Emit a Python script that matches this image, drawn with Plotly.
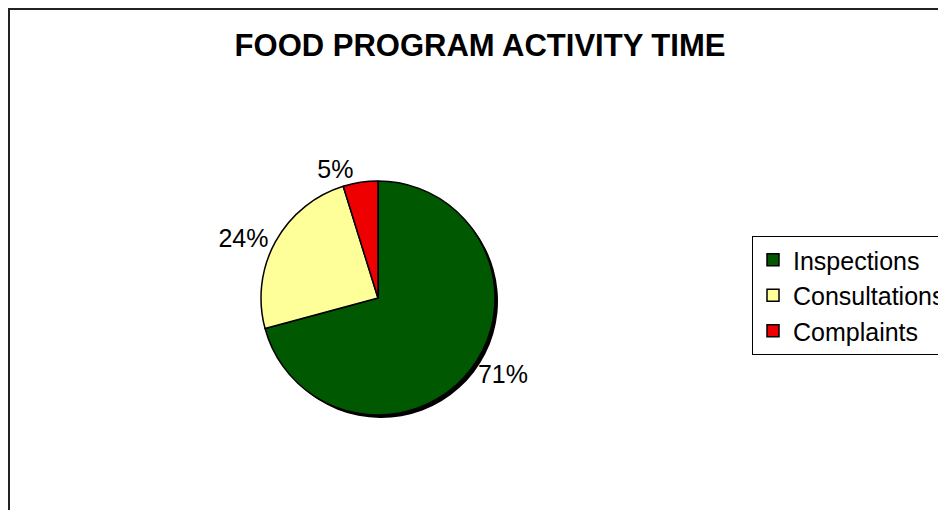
import plotly.graph_objects as go

categories = ["Inspections", "Consultations", "Complaints"]
values = [70.8, 24.4, 4.8]
colors = ["#005800", "#FFFF99", "#EE0000"]

W, H = 946, 510
off = 8  # page body margin offset
cx, cy, r = 378 - off, 298 - off, 117
sh = 3  # shadow offset px

def dom(dx, dy):
    return dict(x=[(cx + dx - r) / W, (cx + dx + r) / W],
                y=[1 - (cy + dy + r) / H, 1 - (cy + dy - r) / H])

fig = go.Figure()
fig.add_trace(go.Pie(
    labels=categories, values=values, sort=False, direction="clockwise", rotation=0,
    marker=dict(colors=["#000000"] * 3, line=dict(width=0)),
    textinfo="none",
    domain=dom(sh, sh), showlegend=False, hoverinfo="skip",
))
fig.add_trace(go.Pie(
    labels=categories, values=values, sort=False, direction="clockwise", rotation=0,
    marker=dict(colors=colors, line=dict(color="#000000", width=1.5)),
    textposition="outside", texttemplate="%{percent:.0%}",
    textfont=dict(size=25, color="#000000", family="Liberation Sans, Arial, sans-serif"),
    domain=dom(0, 0), showlegend=True,
))

fig.update_layout(
    width=W, height=H,
    margin=dict(l=0, r=0, t=0, b=0),
    paper_bgcolor="white", plot_bgcolor="white",
    font=dict(family="Liberation Sans, Arial, sans-serif", color="#000000"),
    title=dict(text="<b>FOOD PROGRAM ACTIVITY TIME</b>", x=(480 - off) / W, xanchor="center",
               y=1 - (45 - off) / H, yanchor="middle",
               font=dict(size=31, family="Liberation Sans, Arial, sans-serif", color="#000000")),
    legend=dict(x=(752 - off) / W, xanchor="left", y=1 - (236 - off) / H, yanchor="top",
                bordercolor="#000000", borderwidth=1, bgcolor="white",
                font=dict(size=25, color="#000000"), traceorder="normal"),
    shapes=[dict(type="rect", xref="paper", yref="paper",
                 x0=1 / W, x1=1.05, y0=-0.05, y1=1 - 1 / H,
                 line=dict(color="#222222", width=2), fillcolor="rgba(0,0,0,0)", layer="below")],
)

fig.write_html("out.html")
